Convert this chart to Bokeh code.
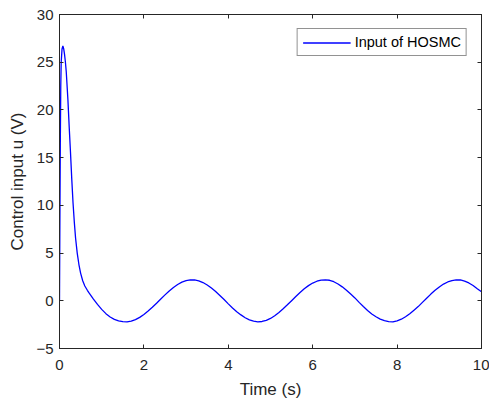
from bokeh.plotting import figure
from bokeh.models import (LinearAxis, Range1d, FixedTicker, Legend, LegendItem,
                          CustomLabelingPolicy)
from bokeh.embed import file_html
from bokeh.resources import INLINE

# Time samples (s)
t = [0.0, 0.01, 0.02, 0.03, 0.04, 0.06, 0.08, 0.10, 0.12, 0.14, 0.16, 0.18, 0.20,
     0.23, 0.26, 0.29, 0.32, 0.35, 0.38, 0.42, 0.46, 0.50, 0.55, 0.60, 0.66, 0.70,
     0.80, 0.90, 1.0, 1.1, 1.2, 1.3, 1.4, 1.5,
     1.6, 1.7, 1.8, 1.9, 2.0, 2.1, 2.2, 2.3, 2.4, 2.5, 2.6, 2.7, 2.8, 2.9, 3.0,
     3.1, 3.2, 3.3, 3.4, 3.5, 3.6, 3.7, 3.8, 3.9, 4.0, 4.1, 4.2, 4.3, 4.4, 4.5,
     4.6, 4.7, 4.8, 4.9, 5.0, 5.1, 5.2, 5.3, 5.4, 5.5, 5.6, 5.7, 5.8, 5.9, 6.0,
     6.1, 6.2, 6.3, 6.4, 6.5, 6.6, 6.7, 6.8, 6.9, 7.0, 7.1, 7.2, 7.3, 7.4, 7.5,
     7.6, 7.7, 7.8, 7.9, 8.0, 8.1, 8.2, 8.3, 8.4, 8.5, 8.6, 8.7, 8.8, 8.9, 9.0,
     9.1, 9.2, 9.3, 9.4, 9.5, 9.6, 9.7, 9.8, 9.9, 10.0]

# Control input u (V) of HOSMC
u = [0.0, 9.0, 17.0, 22.5, 25.0, 26.4, 26.7, 26.4, 25.8, 25.0, 24.0, 22.5, 21.0,
     18.2, 15.6, 12.8, 10.3, 8.3, 6.6, 5.0, 3.8, 2.9, 2.1, 1.55, 1.1, 0.82,
     0.2, -0.38, -0.9, -1.35, -1.7, -1.95, -2.1, -2.18,
     -2.2, -2.13, -1.97, -1.74, -1.44, -1.08, -0.68, -0.25, 0.19, 0.62, 1.03, 1.40, 1.71, 1.95, 2.11,
     2.19, 2.18, 2.09, 1.91, 1.66, 1.34, 0.97, 0.56, 0.13, -0.32, -0.76, -1.14, -1.48, -1.78, -2.00,
     -2.14, -2.20, -2.17, -2.05, -1.85, -1.57, -1.23, -0.84, -0.42, 0.01, 0.44, 0.86, 1.25, 1.59, 1.86,
     2.05, 2.17, 2.20, 2.15, 2.00, 1.76, 1.46, 1.10, 0.70, 0.30, -0.17, -0.60, -1.01, -1.38, -1.67,
     -1.92, -2.09, -2.19, -2.20, -2.11, -1.93, -1.67, -1.35, -0.98, -0.61, -0.17, 0.27, 0.70, 1.10, 1.45,
     1.75, 1.97, 2.12, 2.20, 2.18, 2.06, 1.87, 1.60, 1.27, 0.95]

x_ticks = [0, 2, 4, 6, 8, 10]
y_ticks = [-5, 0, 5, 10, 15, 20, 25, 30]

AX = "#262626"
FONT = "Liberation Sans"

p = figure(width=489, height=402, output_backend="svg", toolbar_location=None,
           x_range=Range1d(0, 10), y_range=Range1d(-5, 30),
           min_border_left=59, min_border_right=8, min_border_top=14, min_border_bottom=54)
p.grid.visible = False
p.outline_line_color = AX
p.outline_line_width = 1
p.background_fill_color = "white"
p.border_fill_color = "white"

r = p.line(t, u, line_color="#0000ff", line_width=1.3)

def style(ax, ticks, labels=True):
    ax.ticker = FixedTicker(ticks=ticks)
    ax.axis_line_color = AX
    ax.major_tick_line_color = AX
    ax.major_tick_in = 4
    ax.major_tick_out = 0
    ax.minor_tick_line_color = None
    ax.major_label_text_color = AX
    ax.major_label_text_font = FONT
    ax.axis_label_text_color = AX
    ax.axis_label_text_font = FONT
    ax.axis_label_text_font_style = "normal"
    ax.axis_label_text_font_size = "17px"
    if labels:
        ax.major_label_text_font_size = "15px"
    else:
        ax.major_label_text_font_size = "1px"
        ax.major_label_standoff = 0
        ax.major_label_policy = CustomLabelingPolicy(
            code="for (const i of indices) { indices.unset(i) } return indices")

style(p.xaxis[0], x_ticks)
style(p.yaxis[0], y_ticks)
p.xaxis[0].axis_label = "Time (s)"
p.yaxis[0].axis_label = "Control input u (V)"
p.xaxis[0].major_label_standoff = 11
p.xaxis[0].axis_label_standoff = 7
p.yaxis[0].major_label_standoff = 6
p.yaxis[0].axis_label_standoff = 6

top = LinearAxis()
right = LinearAxis()
style(top, x_ticks, labels=False)
style(right, y_ticks, labels=False)
p.add_layout(top, "above")
p.add_layout(right, "right")

legend = Legend(items=[LegendItem(label="Input of HOSMC", renderers=[r])],
                location="top_right")
legend.margin = 14
legend.padding = 5
legend.spacing = 0
legend.glyph_width = 48
legend.glyph_height = 15
legend.label_height = 15
legend.label_standoff = 4
legend.label_text_font = FONT
legend.label_text_font_size = "14.5px"
legend.label_text_color = "black"
legend.border_line_color = AX
legend.border_line_width = 1
legend.background_fill_color = "white"
legend.background_fill_alpha = 1
p.add_layout(legend)

open("out.html", "w").write(file_html(p, INLINE))
